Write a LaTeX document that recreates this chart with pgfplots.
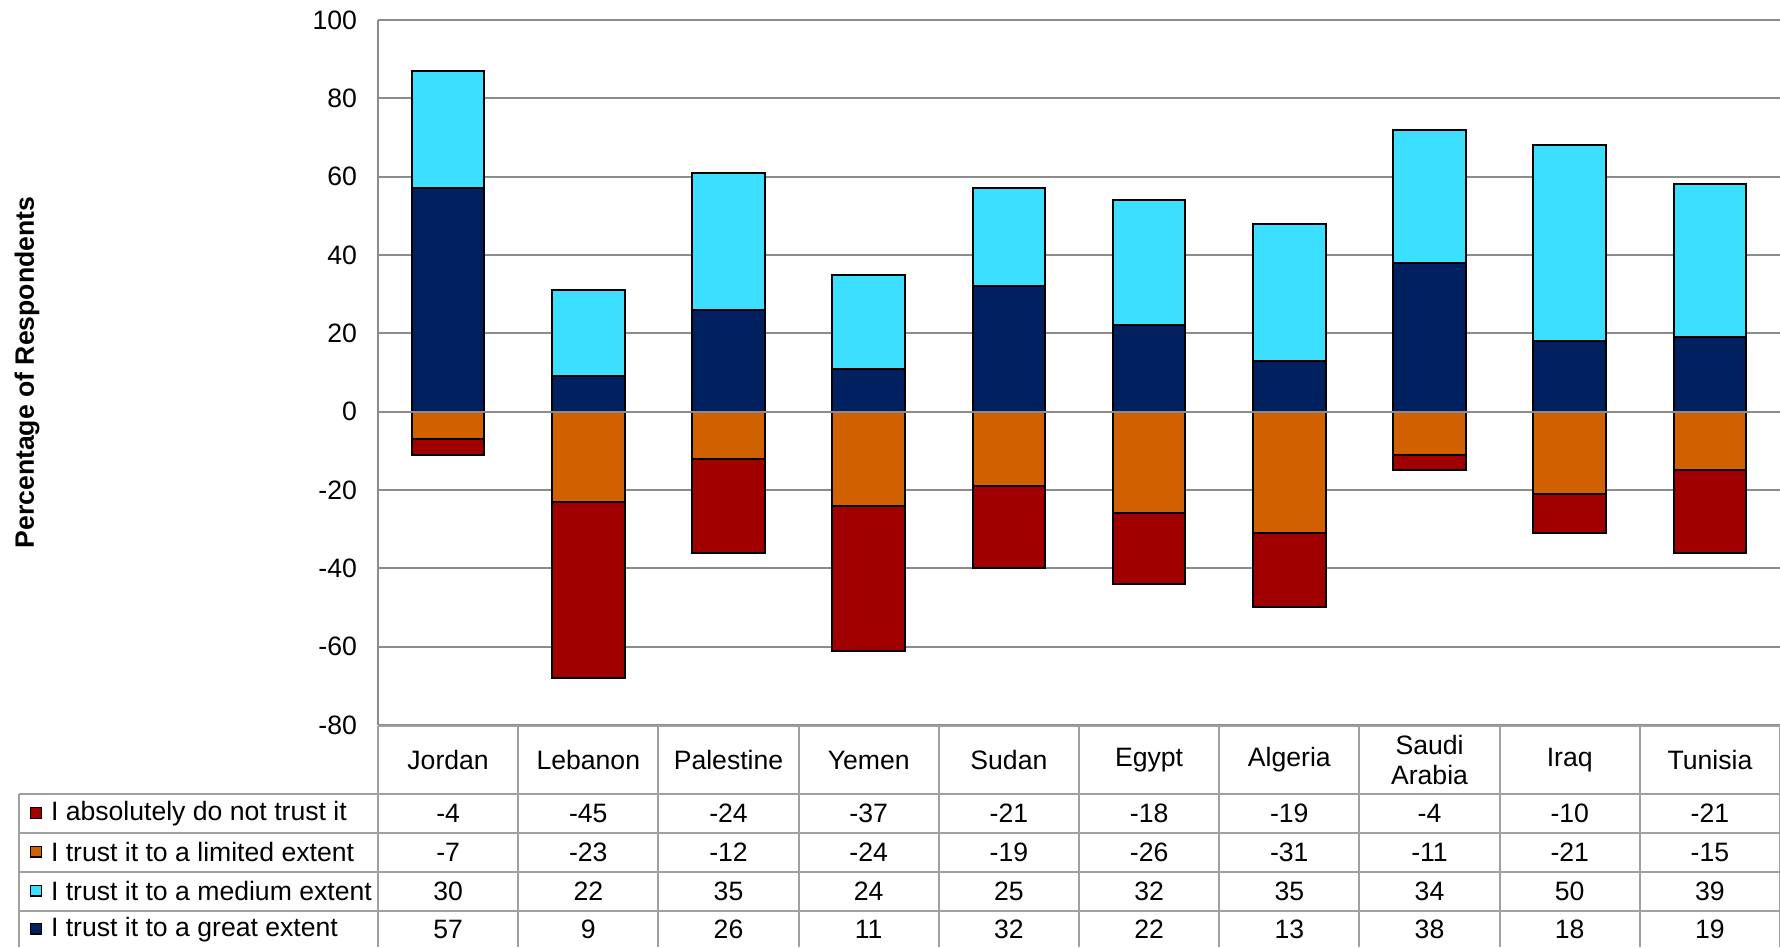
\documentclass[border=0pt]{standalone}
\usepackage{fontspec}
\setmainfont{Liberation Sans}
\usepackage{pgfplots}
\pgfplotsset{compat=1.18}
\usepackage{pgfplotstable}

\definecolor{cNavy}{HTML}{002060}
\definecolor{cCyan}{HTML}{3CDFFF}
\definecolor{cOrange}{HTML}{D06000}
\definecolor{cRed}{HTML}{A00000}
\definecolor{gridc}{HTML}{8C8C8C}
\definecolor{tabc}{HTML}{A0A0A0}

\pgfplotstableread{
x abs lim med great
0 -4 -7 30 57
1 -45 -23 22 9
2 -24 -12 35 26
3 -37 -24 24 11
4 -21 -19 25 32
5 -18 -26 32 22
6 -19 -31 35 13
7 -4 -11 34 38
8 -10 -21 50 18
9 -21 -15 39 19
}\data

\newcommand{\tf}{\fontsize{13.3}{14.8}\selectfont}

\begin{document}
\begin{tikzpicture}[x=1pt,y=1pt]
\useasboundingbox (0,0) rectangle (890,473.5);
\begin{axis}[
  at={(189pt,111pt)}, anchor=south west,
  width=701pt, height=352.5pt, scale only axis,
  xmin=-0.5, xmax=9.5, ymin=-80, ymax=100,
  ytick={-80,-60,...,100},
  ymajorgrids, grid style={gridc, line width=1pt},
  axis line style={draw=none},
  major tick length=0pt,
  xtick={0,...,9},
  xticklabels={Jordan,Lebanon,Palestine,Yemen,Sudan,Egypt,Algeria,{Saudi\\Arabia},Iraq,Tunisia},
  xticklabel style={anchor=center, yshift=-17.5pt, align=center, font=\tf},
  yticklabel style={font=\tf, xshift=-7pt},
  /pgf/number format/assume math mode=true,
  ylabel={Percentage of Respondents},
  every axis y label/.style={at={(axis description cs:-0.2504,0.5)}, rotate=90, anchor=center, font=\tf\bfseries},
  ybar, bar width=36.35pt,
  clip=false,
]
\addplot[fill=cCyan, draw=black, line width=1pt, bar shift=0pt]
  table[x=x, y expr=\thisrow{great}+\thisrow{med}] {\data};
\addplot[fill=cNavy, draw=black, line width=1pt, bar shift=0pt]
  table[x=x, y=great] {\data};
\addplot[fill=cRed, draw=black, line width=1pt, bar shift=0pt]
  table[x=x, y expr=\thisrow{lim}+\thisrow{abs}] {\data};
\addplot[fill=cOrange, draw=black, line width=1pt, bar shift=0pt]
  table[x=x, y=lim] {\data};
\draw[gridc, line width=1pt] (axis cs:-0.5,0) -- (axis cs:9.5,0);
\end{axis}
% left axis line
\draw[gridc, line width=1pt] (189,111) -- (189,463.5);
% table grid
\begin{scope}[tabc, line width=1pt]
  \foreach \k in {0,...,10} \draw (189+70.1*\k,0) -- (189+70.1*\k,110.5);
  \draw (189,110.5) -- (890,110.5);
  \foreach \yy in {76.35,57.15,37.65,18.15} \draw (9.5,\yy) -- (890,\yy);
  \draw (9.5,0) -- (9.5,76.35);
\end{scope}
% legend column
\foreach \lab/\col/\yc in {I absolutely do not trust it/cRed/66.75,
                            I trust it to a limited extent/cOrange/47.4,
                            I trust it to a medium extent/cCyan/27.9,
                            I trust it to a great extent/cNavy/8.9}{
  \draw[fill=\col, draw=black, line width=0.7pt] (15.3,\yc-2.4) rectangle (20.7,\yc+3.0);
  \node[anchor=west, inner sep=0pt, font=\tf] at (25.3,\yc) {\lab};
}
% values
\pgfplotstableforeachcolumnelement{abs}\of\data\as\cell{%
  \node[font=\tf] at (189+70.1*\pgfplotstablerow+35.05,66.75) {\cell};}
\pgfplotstableforeachcolumnelement{lim}\of\data\as\cell{%
  \node[font=\tf] at (189+70.1*\pgfplotstablerow+35.05,47.4) {\cell};}
\pgfplotstableforeachcolumnelement{med}\of\data\as\cell{%
  \node[font=\tf] at (189+70.1*\pgfplotstablerow+35.05,27.9) {\cell};}
\pgfplotstableforeachcolumnelement{great}\of\data\as\cell{%
  \node[font=\tf] at (189+70.1*\pgfplotstablerow+35.05,8.9) {\cell};}
\end{tikzpicture}
\end{document}
